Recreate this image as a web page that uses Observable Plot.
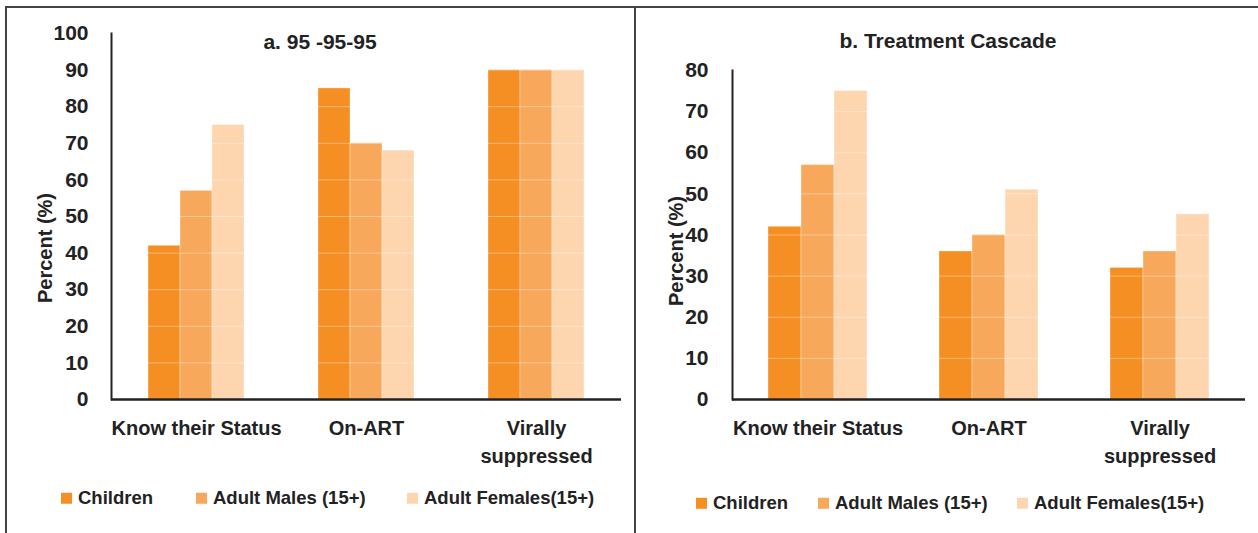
<!DOCTYPE html>
<html>
<head>
<meta charset="utf-8">
<script src="https://cdn.jsdelivr.net/npm/d3@7"></script>
<script src="https://cdn.jsdelivr.net/npm/@observablehq/plot@0.6"></script>
<style>
  html, body { margin: 0; padding: 0; background: #fff; }
  #root { position: relative; width: 1258px; height: 533px; overflow: hidden; background: #fff;
    font-family: "Liberation Sans", Arial, sans-serif; color: #222; }
  .panel { position: absolute; top: 0; }
  .border-top { position: absolute; left: 5px; top: 6px; width: 1253px; height: 0; border-top: 2px solid #444; }
  .border-left { position: absolute; left: 5px; top: 6px; width: 0; height: 527px; border-left: 2px solid #444; }
  .border-mid { position: absolute; left: 634px; top: 6px; width: 0; height: 527px; border-left: 2px solid #444; }
  .title { position: absolute; transform: translate(-50%, -50%); font-weight: bold; font-size: 21px; line-height: 1; white-space: nowrap; }
  .ylab { position: absolute; transform: translate(-50%, -50%) rotate(-90deg); font-weight: bold; font-size: 20px; line-height: 1; white-space: nowrap; }
  .legend { position: absolute; display: flex; align-items: center; font-weight: bold; font-size: 18.5px; line-height: 1; white-space: nowrap; transform: translateY(-50%); }
  .legend span.sw { display: inline-block; width: 11px; height: 11px; margin-right: 6px; }
</style>
</head>
<body>
<div id="root">
  <div class="border-top"></div>
  <div class="border-left"></div>
  <div class="border-mid"></div>
</div>
<script>
// ---- data ----
const categories = ["Know their Status", "On-ART", "Virally suppressed"];
const series = ["Children", "Adult Males (15+)", "Adult Females(15+)"];
const colors = ["#F58F23", "#F8A85A", "#FDD6B0"];

// panel a: 95-95-95
const aChildren = [42, 85, 90];
const aMales = [57, 70, 90];
const aFemales = [75, 68, 90];

// panel b: treatment cascade
const bChildren = [42, 36, 32];
const bMales = [57, 40, 36];
const bFemales = [75, 51, 45];

const yTicksA = [0, 10, 20, 30, 40, 50, 60, 70, 80, 90, 100];
const yTicksB = [0, 10, 20, 30, 40, 50, 60, 70, 80];

const titleA = "a. 95 -95-95";
const titleB = "b. Treatment Cascade";
const yLabel = "Percent (%)";

function toRows(ch, ma, fe) {
  const rows = [];
  categories.forEach((c, i) => {
    rows.push({category: c, series: series[0], value: ch[i]});
    rows.push({category: c, series: series[1], value: ma[i]});
    rows.push({category: c, series: series[2], value: fe[i]});
  });
  return rows;
}

const FONT = '"Liberation Sans", Arial, sans-serif';

function makeChart(rows, yTicks, opts) {
  const ymax = yTicks[yTicks.length - 1];
  return Plot.plot({
    width: opts.width,
    height: 480,
    marginLeft: opts.marginLeft,
    marginRight: opts.marginRight,
    marginTop: opts.marginTop,
    marginBottom: 81,
    style: {fontFamily: FONT, fontSize: "20px", fontWeight: "bold", color: "#222", background: "transparent"},
    fx: {domain: categories, padding: 0},
    x: {domain: series, paddingInner: 0, paddingOuter: 1.09, axis: null},
    y: {domain: [0, ymax]},
    color: {domain: series, range: colors},
    marks: [
      Plot.barY(rows, {fx: "category", x: "series", y: "value", fill: "series", stroke: "white", strokeOpacity: 0.35, strokeWidth: 1}),
      Plot.ruleY(yTicks.slice(1), {stroke: "white", strokeOpacity: 0.35, strokeWidth: 1}),
      Plot.ruleY([0], {stroke: "#222", strokeWidth: 2.5}),
      Plot.frame({anchor: "left", facetAnchor: "left", stroke: "#222", strokeWidth: 2}),
      Plot.axisY({ticks: yTicks, tickSize: 0, tickPadding: opts.tickPad, fontSize: 21, fontWeight: "bold", label: null}),
      Plot.axisFx({anchor: "bottom", tickSize: 0, tickPadding: 16, fontSize: 20, fontWeight: "bold", lineHeight: 1.4, label: null,
        tickFormat: d => d === "Virally suppressed" ? "Virally\nsuppressed" : d})
    ]
  });
}

const root = document.getElementById("root");

const chartA = makeChart(toRows(aChildren, aMales, aFemales), yTicksA,
  {width: 635, marginLeft: 110, marginRight: 13, marginTop: 33, tickPad: 23});
const chartB = makeChart(toRows(bChildren, bMales, bFemales), yTicksB,
  {width: 623, marginLeft: 96, marginRight: 12, marginTop: 70, tickPad: 24});

const pa = document.createElement("div"); pa.className = "panel"; pa.style.left = "0px"; pa.appendChild(chartA); root.appendChild(pa);
const pb = document.createElement("div"); pb.className = "panel"; pb.style.left = "635px"; pb.appendChild(chartB); root.appendChild(pb);

function addText(cls, text, cx, cy) {
  const t = document.createElement("div"); t.className = cls; t.textContent = text;
  t.style.left = cx + "px"; t.style.top = cy + "px"; root.appendChild(t);
}
addText("title", titleA, 320, 41);
addText("title", titleB, 948, 40);
addText("ylab", yLabel, 45, 248);
addText("ylab", yLabel, 676, 251);

function addLegend(xs, cy) {
  series.forEach((s, i) => {
    const l = document.createElement("div"); l.className = "legend";
    l.style.left = xs[i] + "px"; l.style.top = cy + "px";
    const sw = document.createElement("span"); sw.className = "sw"; sw.style.background = colors[i];
    l.appendChild(sw); l.appendChild(document.createTextNode(s)); root.appendChild(l);
  });
}
addLegend([61, 196, 407], 498);
addLegend([696, 818, 1017], 503);
</script>
</body>
</html>
